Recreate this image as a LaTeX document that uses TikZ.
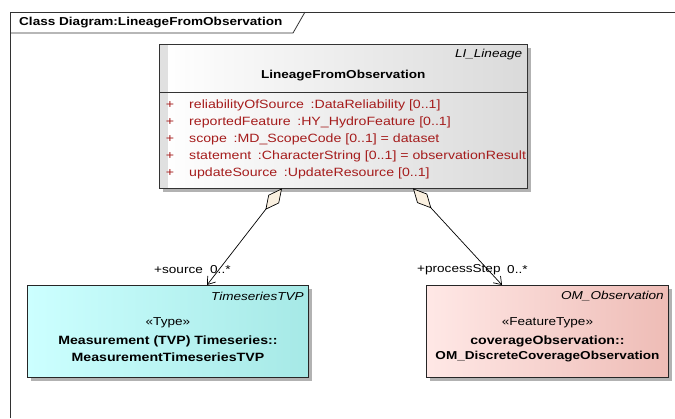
\documentclass[tikz,border=0pt]{standalone}
\usepackage{fontspec}
\setmainfont{Liberation Sans}[FakeStretch=1.18]
\usetikzlibrary{arrows.meta,calc}

\definecolor{attrred}{RGB}{165,28,28}
\definecolor{diamondfill}{RGB}{250,240,224}
\definecolor{shadowcol}{RGB}{178,178,178}
\definecolor{framecol}{RGB}{50,50,50}
\definecolor{cyanL}{RGB}{204,255,255}
\definecolor{cyanR}{RGB}{166,233,230}
\definecolor{pinkL}{RGB}{255,232,230}
\definecolor{pinkR}{RGB}{238,188,182}
\definecolor{greyR}{RGB}{218,218,218}

\tikzset{
  txt/.style={font=\fontsize{11.5}{13}\selectfont, inner sep=0pt},
  boldtxt/.style={font=\fontsize{11.5}{13}\selectfont\bfseries, inner sep=0pt},
  namebold/.style={font=\fontsize{12}{14}\selectfont\bfseries, inner sep=0pt},
  itxt/.style={font=\fontsize{11.5}{13}\selectfont\itshape, inner sep=0pt},
  attr/.style={font=\fontsize{12}{14}\selectfont, inner sep=0pt, text=attrred},
  classbox/.style={rectangle, inner sep=0pt, anchor=north west, shading=axis, shading angle=90},
  assoc/.style={draw=black, line width=0.7pt,
    {Diamond[length=27pt,width=13.5pt,fill=diamondfill,line width=0.7pt]}-{Straight Barb[length=7pt,width=10pt,line width=0.7pt]}},
}

\begin{document}
\begin{tikzpicture}[x=1pt,y=-1pt]
\useasboundingbox (0,0) rectangle (675,418);

% diagram frame with its title tab
\draw[framecol, line width=1pt] (10,418) -- (10,12) -- (675,12);
\draw[framecol, line width=0.8pt] (10,33) -- (293,33) -- (305,12);
\node[boldtxt, anchor=west] (title) at (19,22.5) {Class Diagram:LineageFromObservation};

% shadows
\fill[shadowcol] (163,48) rectangle (531,192);
\fill[shadowcol] (31,289) rectangle (312,381);
\fill[shadowcol] (430,289) rectangle (672,381);

% LineageFromObservation class
\node[classbox, left color=white, right color=greyR, minimum width=368pt, minimum height=144pt] (main) at (159,44) {};
\fill[black!12] ($(main.north west)+(0.5,0.5)$) rectangle ($(main.south west)+(9,-0.5)$);
\draw[black!80, line width=0.9pt] (main.north west) rectangle (main.south east);
\draw[black!80, line width=0.9pt] ($(main.north west)+(0,48)$) -- ($(main.north east)+(0,48)$);
\node[itxt, anchor=east] (mainst) at ($(main.north east)+(-5,11)$) {LI\_Lineage};
\node[boldtxt] (mainname) at ($(main.north)+(0,32)$) {LineageFromObservation};
\foreach \i/\t in {0/{reliabilityOfSource\hspace{0.55em}:DataReliability [0..1]},
                   1/{reportedFeature\hspace{0.55em}:HY\_HydroFeature [0..1]},
                   2/{scope\hspace{0.55em}:MD\_ScopeCode [0..1] = dataset},
                   3/{statement\hspace{0.55em}:CharacterString [0..1] = observationResult},
                   4/{updateSource\hspace{0.55em}:UpdateResource [0..1]}} {
  \node[attr] (plus\i) at ($(main.north west)+(11,61+17*\i)$) {+};
  \node[attr, anchor=west] (attr\i) at ($(main.north west)+(30,61+17*\i)$) {\t};
}

% TimeseriesTVP class
\node[classbox, left color=cyanL, right color=cyanR, minimum width=281pt, minimum height=92pt, draw=black!85, line width=0.9pt] (tvp) at (27,285) {};
\node[itxt, anchor=east] (tvpst) at ($(tvp.north east)+(-5,11)$) {TimeseriesTVP};
\node[txt] (tvpster) at ($(tvp.north)+(0,38)$) {«Type»};
\node[namebold] (tvpn1) at ($(tvp.north)+(0,56)$) {Measurement (TVP) Timeseries::};
\node[namebold] (tvpn2) at ($(tvp.north)+(0,72)$) {MeasurementTimeseriesTVP};

% OM_Observation class
\node[classbox, left color=pinkL, right color=pinkR, minimum width=242pt, minimum height=92pt, draw=black!85, line width=0.9pt] (obs) at (426,285) {};
\node[itxt, anchor=east] (obsst) at ($(obs.north east)+(-5,11)$) {OM\_Observation};
\node[txt] (obsster) at ($(obs.north)+(0,38)$) {«FeatureType»};
\node[namebold] (obsn1) at ($(obs.north)+(0,56)$) {coverageObservation::};
\node[boldtxt] (obsn2) at ($(obs.north)+(0,72)$) {OM\_DiscreteCoverageObservation};

% aggregations
\coordinate (srcA) at ($(main.south west)+(123,0)$);
\coordinate (dstA) at ($(tvp.north west)+(180,0)$);
\coordinate (srcB) at ($(main.south west)+(254,0)$);
\coordinate (dstB) at ($(obs.north west)+(76,0)$);
\draw[assoc] (srcA) -- (dstA);
\draw[assoc] (srcB) -- (dstB);

% role names and multiplicities
\node[txt, anchor=west] (roleA) at (154,270) {+source};
\node[txt, anchor=west] (multA) at (210,270) {0..*};
\node[txt, anchor=west] (roleB) at (417,270) {+processStep};
\node[txt, anchor=west] (multB) at (507,270) {0..*};
\end{tikzpicture}
\end{document}
